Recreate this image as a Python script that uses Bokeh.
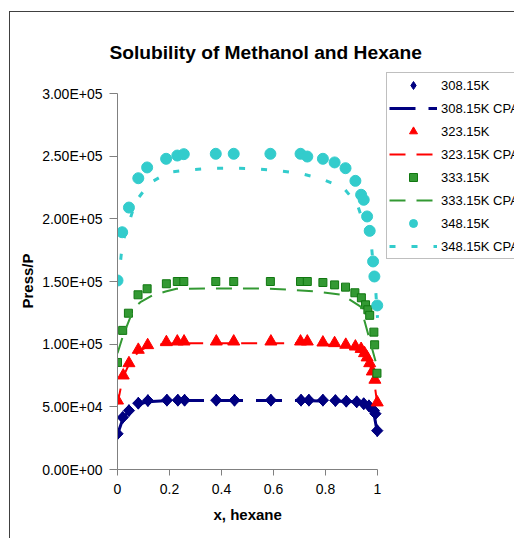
from bokeh.plotting import figure
from bokeh.models import FixedTicker, Legend, LegendItem, Title
from bokeh.embed import file_html
from bokeh.resources import INLINE
import math

# ---------------- data ----------------
x_308 = [0, 0.02, 0.044, 0.08, 0.117, 0.19, 0.232, 0.258, 0.38, 0.45, 0.59, 0.706, 0.736, 0.79, 0.838, 0.88, 0.92, 0.947, 0.967, 0.986, 0.992, 0.999]
p_308 = [28500, 41500, 47000, 52900, 55000, 55300, 55300, 55300, 55300, 55300, 55300, 55300, 55300, 55300, 55000, 54500, 54000, 52500, 50800, 47000, 44500, 31000]

x_308c = [0, 0.02, 0.044, 0.08, 0.115, 0.19, 0.3, 0.5, 0.7, 0.85, 0.92, 0.95, 0.97, 0.985, 0.998]
p_308c = [28000, 40000, 47000, 52000, 54000, 55000, 55000, 55000, 55000, 54500, 54000, 52500, 50500, 46000, 31000]

x_323 = [0, 0.022, 0.044, 0.08, 0.116, 0.188, 0.23, 0.256, 0.38, 0.447, 0.59, 0.704, 0.73, 0.79, 0.835, 0.878, 0.915, 0.937, 0.95, 0.96, 0.97, 0.98, 0.99, 0.999]
p_323 = [55000, 75000, 84800, 95500, 99200, 101600, 102100, 102100, 102100, 102100, 102100, 102100, 102100, 101300, 100800, 99500, 98100, 96200, 92800, 89400, 84800, 78200, 71600, 53500]

x_323c = [0, 0.02, 0.044, 0.08, 0.115, 0.19, 0.3, 0.5, 0.7, 0.8, 0.88, 0.92, 0.95, 0.97, 0.985, 0.998]
p_323c = [52000, 73000, 84000, 94000, 98000, 100500, 100800, 100800, 100800, 100000, 98000, 95500, 91000, 84000, 74000, 54000]

x_333 = [0, 0.02, 0.042, 0.079, 0.114, 0.188, 0.23, 0.255, 0.378, 0.447, 0.588, 0.704, 0.73, 0.79, 0.835, 0.877, 0.913, 0.938, 0.954, 0.963, 0.97, 0.986, 0.989, 0.998]
p_333 = [85400, 111000, 124700, 139400, 144200, 148200, 150000, 150000, 150000, 150000, 150000, 150000, 150000, 149200, 147300, 145500, 141000, 137000, 131400, 127400, 123000, 109600, 99500, 76800]

x_333c = [0, 0.02, 0.063, 0.088, 0.133, 0.185, 0.227, 0.4, 0.55, 0.665, 0.768, 0.864, 0.935, 0.996, 1.0]
p_333c = [92800, 106000, 128700, 133500, 138700, 142000, 144200, 144500, 144500, 143400, 142000, 139400, 130000, 83800, 78000]

x_348 = [0, 0.018, 0.044, 0.08, 0.114, 0.187, 0.23, 0.255, 0.378, 0.447, 0.588, 0.704, 0.73, 0.79, 0.835, 0.877, 0.915, 0.937, 0.947, 0.96, 0.97, 0.983, 0.988, 0.999]
p_348 = [150800, 189300, 209000, 232400, 241000, 247900, 250500, 251600, 251900, 251900, 251900, 251900, 249700, 247900, 245000, 240400, 230300, 219200, 215200, 201900, 190400, 166000, 154000, 130900]

x_348c = [0, 0.01, 0.019, 0.07, 0.123, 0.197, 0.28, 0.367, 0.45, 0.533, 0.62, 0.704, 0.783, 0.868, 0.922, 0.977, 0.993, 1.0]
p_348c = [150000, 163000, 180500, 213800, 228400, 237200, 239100, 240400, 240400, 239900, 238400, 236200, 232000, 225000, 211700, 177900, 143400, 121000]

series_names = ["308.15K", "308.15K CPA", "323.15K", "323.15K CPA", "333.15K", "333.15K CPA", "348.15K", "348.15K CPA"]

y_ticks = [0, 50000, 100000, 150000, 200000, 250000, 300000]
y_tick_labels = ["0.00E+00", "5.00E+04", "1.00E+05", "1.50E+05", "2.00E+05", "2.50E+05", "3.00E+05"]
x_ticks = [0, 0.2, 0.4, 0.6, 0.8, 1.0]
x_tick_labels = ["0", "0.2", "0.4", "0.6", "0.8", "1"]

title_text = "Solubility of Methanol and Hexane"
x_title = "x, hexane"
y_title = "Press/P"

FONT = "Liberation Sans"

# axis extents (the drawn axes cover x 0..1 and P 0..3e5; the frame is
# wider/taller so the legend, which sits outside the axes, is not clipped)
X_AXIS = (0, 1)
Y_AXIS = (0, 300000)
X_VIEW_END = 398 / 260
Y_VIEW_END = 300000 * (468 - 65) / 376

# ---------------- figure ----------------
p = figure(width=505, height=527, x_range=(0, X_VIEW_END), y_range=(0, Y_VIEW_END),
           output_backend="svg", toolbar_location=None,
           margin=(11, 0, 0, 9),
           min_border_left=107, min_border_right=0, min_border_top=54, min_border_bottom=70)
p.styles = {"border-left": "1px solid #404040", "border-top": "1px solid #404040"}
p.outline_line_color = None
p.xgrid.visible = False
p.ygrid.visible = False
p.background_fill_color = "white"
p.border_fill_color = "white"

p.title.text = title_text
p.title.align = "left"
p.title.offset = -8
p.title.vertical_align = "bottom"
p.title.text_font = FONT
p.title.text_font_style = "bold"
p.title.text_font_size = "19.2px"
p.title.text_color = "black"
p.title.standoff = 8

AX = "#808080"
for ax in (p.xaxis[0], p.yaxis[0]):
    ax.axis_line_color = AX
    ax.major_tick_line_color = AX
    ax.minor_tick_line_color = None
    ax.major_tick_in = 0
    ax.major_label_text_font = FONT
    ax.major_label_text_font_size = "14px"
    ax.major_label_text_color = "black"

p.xaxis.bounds = X_AXIS
p.xaxis.ticker = FixedTicker(ticks=x_ticks)
p.xaxis.major_label_overrides = dict(zip(x_ticks, x_tick_labels))
p.xaxis.major_tick_out = 6
p.xaxis.major_label_standoff = 8

p.yaxis.bounds = Y_AXIS
p.yaxis.ticker = FixedTicker(ticks=y_ticks)
p.yaxis.major_label_overrides = dict(zip(y_ticks, y_tick_labels))
p.yaxis.major_tick_out = 8
p.yaxis.major_label_standoff = 7

# axis titles, placed so they are centred on the drawn axes (not the wider frame)
xt = Title(text=x_title, align="left", offset=96, vertical_align="top", standoff=18,
           text_font=FONT, text_font_style="bold", text_font_size="15px", text_color="black")
p.add_layout(xt, "below")
yt = Title(text=y_title, align="left", offset=161, vertical_align="bottom", standoff=8,
           text_font=FONT, text_font_style="bold", text_font_size="15px", text_color="black")
p.add_layout(yt, "left")

NAVY = "#000080"
RED = "#FF0000"
GREEN = "#339933"
GREEN_D = "#117711"
CYAN = "#33CCCC"

p.scatter(x_308, p_308, marker="square", angle=math.pi / 4, size=8, fill_color=NAVY, line_color=NAVY)
r1 = p.scatter(x_308, p_308, marker="diamond", size=12, fill_color=NAVY, line_color=NAVY)
l1 = p.line(x_308c, p_308c, line_color=NAVY, line_width=3, line_dash="26 13")
r2 = p.scatter(x_323, p_323, marker="triangle", size=12, fill_color=RED, line_color=RED)
l2 = p.line(x_323c, p_323c, line_color=RED, line_width=2, line_dash="16 11")
r3 = p.scatter(x_333, p_333, marker="square", size=8, fill_color=GREEN, line_color=GREEN_D)
l3 = p.line(x_333c, p_333c, line_color=GREEN, line_width=2, line_dash="16 11")
r4 = p.scatter(x_348, p_348, marker="circle", size=11, fill_color=CYAN, line_color=CYAN)
l4 = p.line(x_348c, p_348c, line_color=CYAN, line_width=3, line_dash="6 16")

renderers = [r1, l1, r2, l2, r3, l3, r4, l4]
legend = Legend(items=[LegendItem(label=n, renderers=[r]) for n, r in zip(series_names, renderers)],
                location=(269, 210), orientation="vertical",
                glyph_width=48, glyph_height=20, label_height=20, spacing=3, padding=2, margin=0,
                label_standoff=4, label_text_font=FONT, label_text_font_size="13px",
                label_text_color="black", border_line_color="#7f7f7f", border_line_width=1,
                background_fill_color="white", background_fill_alpha=1)
p.add_layout(legend)

open("out.html", "w").write(file_html(p, INLINE))
